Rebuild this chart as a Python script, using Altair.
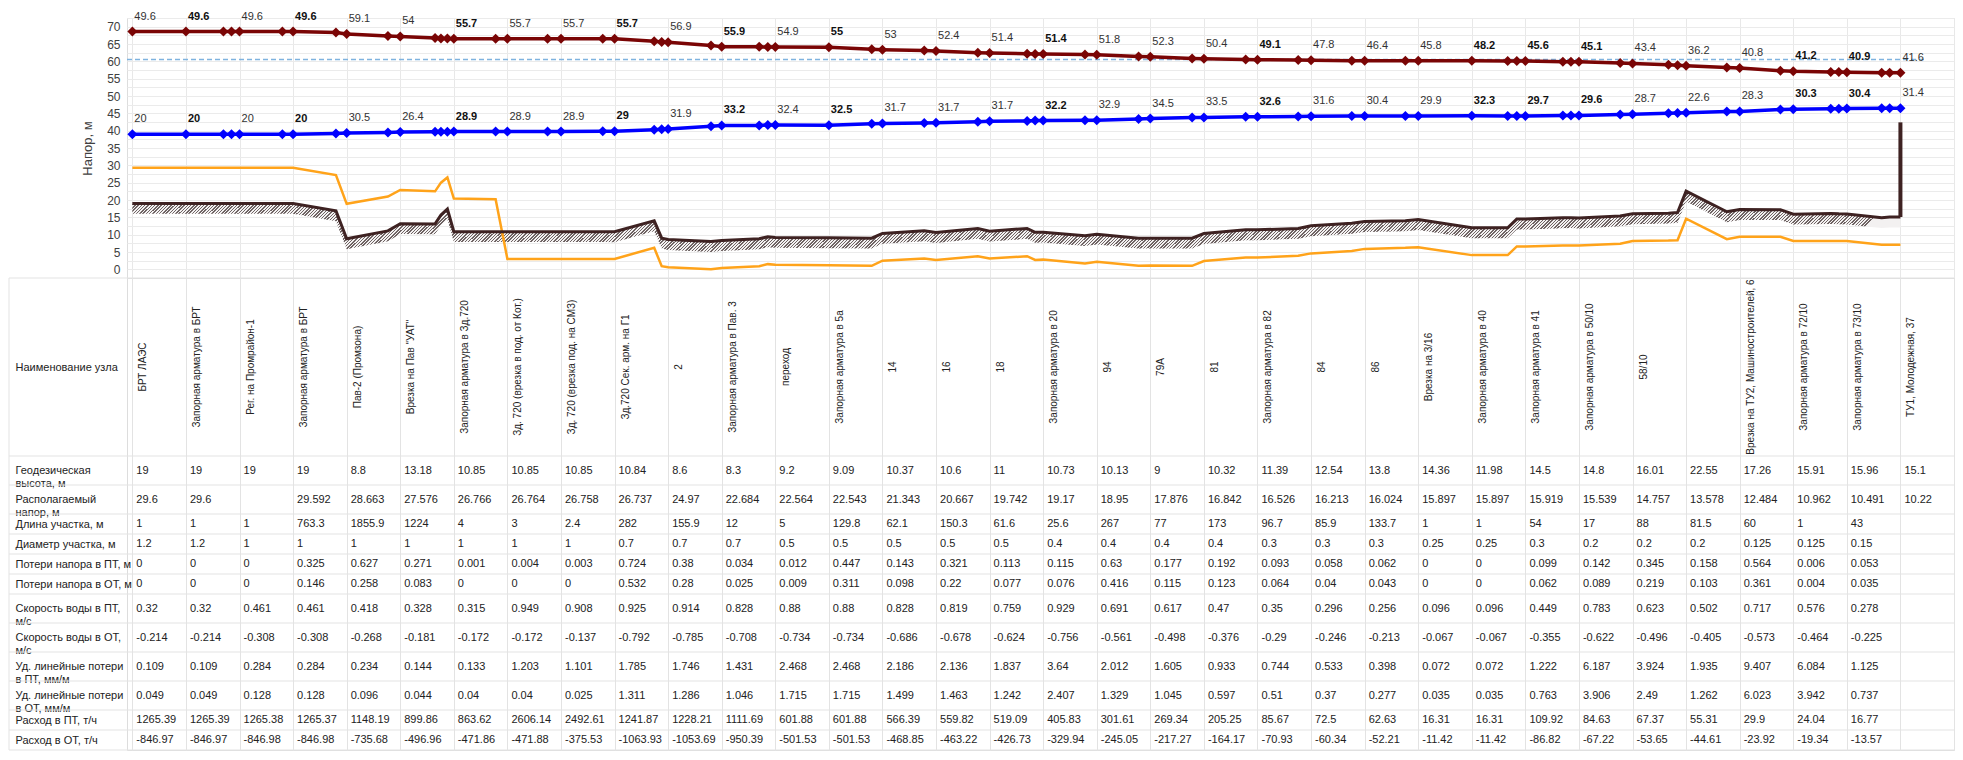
import json
import altair as alt
import pandas as pd

FONT = "Liberation Sans"

# ---------------- data ----------------
names = ["БРТ ЛАЭС", "Запорная арматура в БРТ", "Рег. на Промрайон-1", "Запорная арматура в БРТ",
         "Пав-2 (Промзона)", 'Врезка на Пав "УАТ"', "Запорная арматура в Зд.720",
         "Зд. 720 (врезка в под. от Кот.)", "Зд. 720 (врезка под. на СМЗ)", "Зд.720 Сек. арм. на Г1",
         "2", "Запорная арматура в Пав. 3", "переход", "Запорная арматура в 5а", "14", "16", "18",
         "Запорная арматура в 20", "94", "79А", "81", "Запорная арматура в 82", "84", "86",
         "Врезка на 3/16", "Запорная арматура в 40", "Запорная арматура в 41",
         "Запорная арматура в 50/10", "58/10", "", "Врезка на ТУ2, Машиностроителей, 6",
         "Запорная арматура в 72/10", "Запорная арматура в 73/10", "ТУ1, Молодежная, 37"]

geo = [19, 19, 19, 19, 8.8, 13.18, 10.85, 10.85, 10.85, 10.84, 8.6, 8.3, 9.2, 9.09, 10.37, 10.6, 11,
       10.73, 10.13, 9, 10.32, 11.39, 12.54, 13.8, 14.36, 11.98, 14.5, 14.8, 16.01, 22.55, 17.26,
       15.91, 15.96, 15.1]
avail = [29.6, 29.6, None, 29.592, 28.663, 27.576, 26.766, 26.764, 26.758, 26.737, 24.97, 22.684,
         22.564, 22.543, 21.343, 20.667, 19.742, 19.17, 18.95, 17.876, 16.842, 16.526, 16.213,
         16.024, 15.897, 15.897, 15.919, 15.539, 14.757, 13.578, 12.484, 10.962, 10.491, 10.22]
length = [1, 1, 1, 763.3, 1855.9, 1224, 4, 3, 2.4, 282, 155.9, 12, 5, 129.8, 62.1, 150.3, 61.6,
          25.6, 267, 77, 173, 96.7, 85.9, 133.7, 1, 1, 54, 17, 88, 81.5, 60, 1, 43, None]
diam = [1.2, 1.2, 1, 1, 1, 1, 1, 1, 1, 0.7, 0.7, 0.7, 0.5, 0.5, 0.5, 0.5, 0.5, 0.4, 0.4, 0.4, 0.4,
        0.3, 0.3, 0.3, 0.25, 0.25, 0.3, 0.2, 0.2, 0.2, 0.125, 0.125, 0.15, None]
loss_s = [0, 0, 0, 0.325, 0.627, 0.271, 0.001, 0.004, 0.003, 0.724, 0.38, 0.034, 0.012, 0.447,
          0.143, 0.321, 0.113, 0.115, 0.63, 0.177, 0.192, 0.093, 0.058, 0.062, 0, 0, 0.099, 0.142,
          0.345, 0.158, 0.564, 0.006, 0.053, None]
loss_r = [0, 0, 0, 0.146, 0.258, 0.083, 0, 0, 0, 0.532, 0.28, 0.025, 0.009, 0.311, 0.098, 0.22,
          0.077, 0.076, 0.416, 0.115, 0.123, 0.064, 0.04, 0.043, 0, 0, 0.062, 0.089, 0.219, 0.103,
          0.361, 0.004, 0.035, None]
vel_s = [0.32, 0.32, 0.461, 0.461, 0.418, 0.328, 0.315, 0.949, 0.908, 0.925, 0.914, 0.828, 0.88,
         0.88, 0.828, 0.819, 0.759, 0.929, 0.691, 0.617, 0.47, 0.35, 0.296, 0.256, 0.096, 0.096,
         0.449, 0.783, 0.623, 0.502, 0.717, 0.576, 0.278, None]
vel_r = [-0.214, -0.214, -0.308, -0.308, -0.268, -0.181, -0.172, -0.172, -0.137, -0.792, -0.785,
         -0.708, -0.734, -0.734, -0.686, -0.678, -0.624, -0.756, -0.561, -0.498, -0.376, -0.29,
         -0.246, -0.213, -0.067, -0.067, -0.355, -0.622, -0.496, -0.405, -0.573, -0.464, -0.225, None]
sp_s = [0.109, 0.109, 0.284, 0.284, 0.234, 0.144, 0.133, 1.203, 1.101, 1.785, 1.746, 1.431, 2.468,
        2.468, 2.186, 2.136, 1.837, 3.64, 2.012, 1.605, 0.933, 0.744, 0.533, 0.398, 0.072, 0.072,
        1.222, 6.187, 3.924, 1.935, 9.407, 6.084, 1.125, None]
sp_r = [0.049, 0.049, 0.128, 0.128, 0.096, 0.044, 0.04, 0.04, 0.025, 1.311, 1.286, 1.046, 1.715,
        1.715, 1.499, 1.463, 1.242, 2.407, 1.329, 1.045, 0.597, 0.51, 0.37, 0.277, 0.035, 0.035,
        0.763, 3.906, 2.49, 1.262, 6.023, 3.942, 0.737, None]
flow_s = [1265.39, 1265.39, 1265.38, 1265.37, 1148.19, 899.86, 863.62, 2606.14, 2492.61, 1241.87,
          1228.21, 1111.69, 601.88, 601.88, 566.39, 559.82, 519.09, 405.83, 301.61, 269.34, 205.25,
          85.67, 72.5, 62.63, 16.31, 16.31, 109.92, 84.63, 67.37, 55.31, 29.9, 24.04, 16.77, None]
flow_r = [-846.97, -846.97, -846.98, -846.98, -735.68, -496.96, -471.86, -471.88, -375.53, -1063.93,
          -1053.69, -950.39, -501.53, -501.53, -468.85, -463.22, -426.73, -329.94, -245.05, -217.27,
          -164.17, -70.93, -60.34, -52.21, -11.42, -11.42, -86.82, -67.22, -53.65, -44.61, -23.92,
          -19.34, -13.57, None]

# pressures shown as labels on the supply / return head lines
p_supply = [49.6, 49.6, 49.6, 49.6, 59.1, 54, 55.7, 55.7, 55.7, 55.7, 56.9, 55.9, 54.9, 55, 53,
            52.4, 51.4, 51.4, 51.8, 52.3, 50.4, 49.1, 47.8, 46.4, 45.8, 48.2, 45.6, 45.1, 43.4,
            36.2, 40.8, 41.2, 40.9, 41.6]
p_return = [20, 20, 20, 20, 30.5, 26.4, 28.9, 28.9, 28.9, 29, 31.9, 33.2, 32.4, 32.5, 31.7, 31.7,
            31.7, 32.2, 32.9, 34.5, 33.5, 32.6, 31.6, 30.4, 29.9, 32.3, 29.7, 29.6, 28.7, 22.6,
            28.3, 30.3, 30.4, 31.4]
# orange line at the nodes
node_orange = [29.3, 29.3, 29.3, 29.3, 18.9, 22.9, 20.4, 3.0, 3.0, 3.0, 0.6, 0.4, 1.3, 1.2, 2.5,
               2.7, 3.1, 2.8, 2.2, 1.1, 2.4, 3.4, 4.6, 5.9, 6.4, 4.1, 6.6, 6.9, 8.2, 14.6, 9.4,
               8.2, 8.2, 7.1]

# intermediate profile points between nodes (position in node units)
ex_x = [1.7, 1.85, 2.8, 3.8, 4.77, 5.65, 5.76, 5.88, 6.78, 7.75, 8.78, 9.74, 9.88, 10.8, 11.7,
        11.86, 13.8, 14.78, 15.78, 16.7, 16.85, 17.78, 18.78, 19.78, 20.78, 21.76, 22.76, 23.76,
        25.67, 25.84, 26.7, 26.85, 27.77, 28.67, 28.84, 29.76, 30.76, 31.7, 31.85, 32.65, 32.8]
ex_geo = [19, 19, 19, 16.9, 11.1, 13.1, 15.7, 17.4, 10.85, 10.85, 10.85, 14.0, 9.0, 8.0, 8.8, 9.4,
          9.0, 11.1, 11.8, 11.8, 10.7, 9.7, 9.0, 9.0, 11.4, 11.8, 13.3, 14.0, 11.98, 14.5, 14.85,
          14.9, 15.4, 16.2, 16.4, 16.6, 17.2, 16.1, 16.0, 14.9, 15.1]
ex_orange = [29.3, 29.3, 29.3, 27.2, 21.0, 22.5, 25.0, 26.5, 20.2, 3.0, 3.0, 6.2, 0.9, 0.0, 0.9,
             1.5, 1.0, 3.1, 3.8, 3.8, 2.7, 1.7, 1.0, 1.0, 3.4, 3.9, 5.3, 6.2, 4.1, 6.6, 6.9, 6.9,
             7.4, 8.3, 8.4, 8.7, 9.4, 8.2, 8.2, 7.1, 7.1]
ex_supply = [68.6, 68.6, 68.6, 68.3, 67.3, 66.7, 66.6, 66.6, 66.55, 66.55, 66.55, 65.8, 65.6, 64.6,
             64.2, 64.1, 63.5, 63.1, 62.5, 62.2, 62.15, 62.0, 61.4, 60.8, 60.5, 60.4, 60.2, 60.2,
             60.1, 60.1, 59.9, 59.9, 59.5, 59.0, 58.9, 58.2, 57.3, 56.9, 56.9, 56.7, 56.7]
ex_return = [39, 39, 39, 39.2, 39.5, 39.7, 39.7, 39.7, 39.75, 39.75, 39.8, 40.3, 40.4, 41.3, 41.5,
             41.6, 42.0, 42.2, 42.6, 42.8, 42.9, 43.0, 43.4, 43.8, 44.0, 44.1, 44.2, 44.25, 44.2,
             44.2, 44.35, 44.4, 44.65, 45.0, 45.1, 45.5, 46.1, 46.3, 46.35, 46.5, 46.5]

limit_head = 60.5          # dashed reference line
limit_span = [-0.1, 33.45]
end_riser_top = 42.4       # vertical line at the last node

row_lines = [["Наименование узла"], ["Геодезическая", "высота, м"], ["Располагаемый", "напор, м"],
             ["Длина участка, м"], ["Диаметр участка, м"], ["Потери напора в ПТ, м"],
             ["Потери напора в ОТ, м"], ["Скорость воды в ПТ,", "м/с"], ["Скорость воды в ОТ,", "м/с"],
             ["Уд. линейные потери", "в ПТ, мм/м"], ["Уд. линейные потери", "в ОТ, мм/м"],
             ["Расход в ПТ, т/ч"], ["Расход в ОТ, т/ч"]]
row_values = [geo, avail, length, diam, loss_s, loss_r, vel_s, vel_r, sp_s, sp_r, flow_s, flow_r]

# ---------------- layout ----------------
PLOT_W = 1827
TOP_H = 260
ROW_H = [178, 29, 29, 20, 20, 20, 20, 29, 29, 29, 29, 20, 20]
LEFT = 118

bounds = [0]
for h in ROW_H:
    bounds.append(bounds[-1] + h)
TOTAL = bounds[-1]
centers = [(bounds[i] + bounds[i + 1]) / 2 for i in range(len(ROW_H))]

# ---------------- frames ----------------
n = len(names)
nodes = pd.DataFrame({"x": list(range(n)), "geo": geo, "orange": node_orange,
                      "ps": p_supply, "pr": p_return, "name": names})
nodes["supply"] = nodes["geo"] + nodes["ps"]
nodes["ret"] = nodes["geo"] + nodes["pr"]
nodes["valve"] = nodes["name"].str.contains("арм")
extras = pd.DataFrame({"x": ex_x, "geo": ex_geo, "orange": ex_orange,
                       "supply": ex_supply, "ret": ex_return})
prof = pd.concat([nodes[["x", "geo", "orange", "supply", "ret"]], extras]).sort_values("x")
prof = prof.reset_index(drop=True)

xscale = alt.Scale(domain=[-0.1, 34], nice=False, zero=False)
x_axis = alt.Axis(values=list(range(35)), grid=True, gridColor="#e8e8e8", labels=False,
                  ticks=False, domain=False, title=None)
X = alt.X("x:Q", scale=xscale, axis=x_axis)

yscale = alt.Scale(domain=[-2.5, 72.5], nice=False, zero=False)
y_axis = alt.Axis(values=[v / 2 for v in range(-5, 146, 5)],
                  labelExpr="(datum.value >= 0 && datum.value % 5 == 0) ? datum.label : ''",
                  grid=True, gridColor="#ebebeb", ticks=False, domain=False,
                  title="Напор, м", titleFontWeight="normal", titleFontSize=13,
                  titleColor="#404040", titleFont=FONT, labelFont=FONT, labelFontSize=12,
                  labelColor="#404040", labelPadding=7, titlePadding=12, labelOverlap=False)

# hatch-like fill for the ground band
k = 0.035
N = 540
dark, light = "#6f6464", "#f3f1f1"
stops = []
for i in range(N):
    a, m, b = round(i / N, 6), round((i + 0.45) / N, 6), round((i + 1) / N, 6)
    stops += [{"offset": a, "color": dark}, {"offset": m, "color": dark},
              {"offset": m, "color": light}, {"offset": b, "color": light}]
hatch = {"gradient": "linear", "x1": 0, "y1": 0, "x2": 1, "y2": k, "stops": stops}

base = alt.Chart(prof)
band = base.transform_calculate(low="datum.geo - 3").mark_area(
    color=hatch, opacity=1).encode(x=X, y=alt.Y("geo:Q", scale=yscale, axis=y_axis), y2="low:Q")
orange = base.mark_line(color="#ffa31a", strokeWidth=2.5).encode(
    x=X, y=alt.Y("orange:Q", scale=yscale, axis=y_axis))
ground = base.mark_line(color="#3e2222", strokeWidth=3).encode(
    x=X, y=alt.Y("geo:Q", scale=yscale, axis=y_axis))
riser = alt.Chart(pd.DataFrame({"x": [n - 1], "y": [geo[-1]], "y2": [end_riser_top]})).mark_rule(
    color="#3e2222", strokeWidth=4).encode(x=X, y=alt.Y("y:Q", scale=yscale, axis=y_axis), y2="y2:Q")
limit = alt.Chart(pd.DataFrame({"x": [limit_span[0]], "x2": [limit_span[1]], "y": [limit_head]})).mark_rule(
    color="#7fb3df", strokeWidth=1.5, strokeDash=[5, 3]).encode(
    x=X, x2="x2:Q", y=alt.Y("y:Q", scale=yscale, axis=y_axis))

RED, BLUE = "#7a0505", "#0000ff"
sup_line = base.mark_line(color=RED, strokeWidth=3.5).encode(
    x=X, y=alt.Y("supply:Q", scale=yscale, axis=y_axis))
sup_pts = base.mark_point(shape="diamond", filled=True, size=100, color=RED, opacity=1).encode(
    x=X, y=alt.Y("supply:Q", scale=yscale, axis=y_axis))
ret_line = base.mark_line(color=BLUE, strokeWidth=3.5).encode(
    x=X, y=alt.Y("ret:Q", scale=yscale, axis=y_axis))
ret_pts = base.mark_point(shape="diamond", filled=True, size=100, color=BLUE, opacity=1).encode(
    x=X, y=alt.Y("ret:Q", scale=yscale, axis=y_axis))


def labels(field, yfield):
    out = []
    for flt, weight, col in [("!datum.valve", "normal", "#333333"), ("datum.valve", "bold", "#111111")]:
        out.append(alt.Chart(nodes).transform_filter(flt).mark_text(
            align="left", baseline="alphabetic", dx=2, dy=-12, fontSize=11, font=FONT,
            fontWeight=weight, color=col).encode(
            x=X, y=alt.Y(f"{yfield}:Q", scale=yscale, axis=y_axis),
            text=alt.Text(f"{field}:Q", format=".1~f")))
    return out


top = alt.layer(band, orange, ground, riser, limit, sup_line, ret_line, sup_pts, ret_pts,
                *labels("ps", "supply"), *labels("pr", "ret")).properties(width=PLOT_W, height=TOP_H)

# ---------------- table ----------------
tscale = alt.Scale(domain=[0, TOTAL], reverse=True, nice=False, zero=False)
label_expr = "{}[indexof({}, datum.value)]".format(
    json.dumps(row_lines, ensure_ascii=False), json.dumps(centers))
row_axis = alt.Axis(values=centers, labelExpr=label_expr, labelAlign="left", labelBaseline="middle",
                    labelPadding=LEFT - 6, ticks=False, tickSize=0, domain=False, grid=False,
                    title=None, labelFontSize=11, labelFont=FONT, labelColor="#222222",
                    labelLineHeight=13, labelOverlap=False, labelLimit=0, labelBound=False)
tx_axis = alt.Axis(values=list(range(35)), grid=True, gridColor="#e3e3e3", labels=False,
                   ticks=False, domain=False, title=None)
TX = alt.X("x:Q", scale=xscale, axis=tx_axis)

cells = []
for r, vals in enumerate(row_values):
    for c, v in enumerate(vals):
        if v is not None:
            cells.append({"x": c, "y": centers[r + 1], "t": str(v)})
cells = pd.DataFrame(cells)
name_cells = pd.DataFrame([{"x": c, "y": centers[0], "t": nm} for c, nm in enumerate(names) if nm])

hlines = alt.Chart(pd.DataFrame({"b": bounds})).mark_rule(color="#e3e3e3", strokeWidth=1).encode(
    y=alt.Y("b:Q", scale=tscale, axis=row_axis), x=alt.value(-LEFT), x2=alt.value(PLOT_W))
vborder = alt.Chart(pd.DataFrame({"a": [0], "b": [TOTAL]})).mark_rule(color="#e3e3e3").encode(
    y=alt.Y("a:Q", scale=tscale, axis=row_axis), y2="b:Q", x=alt.value(-LEFT))
name_txt = alt.Chart(name_cells).mark_text(angle=270, align="center", baseline="middle", dy=11,
                                           fontSize=10, font=FONT, color="#222222").encode(
    x=TX, y=alt.Y("y:Q", scale=tscale, axis=row_axis), text="t:N")
val_txt = alt.Chart(cells).mark_text(align="left", baseline="middle", dx=4, fontSize=11, font=FONT,
                                     color="#222222").encode(
    x=TX, y=alt.Y("y:Q", scale=tscale, axis=row_axis), text="t:N")

table = alt.layer(hlines, vborder, name_txt, val_txt).properties(width=PLOT_W, height=TOTAL)

chart = alt.vconcat(top, table, spacing=0, bounds="flush").properties(
    padding={"left": 0, "top": 2, "right": 0, "bottom": 0}
).configure_view(stroke=None).configure(font=FONT)

chart.save("out.html", embed_options={"renderer": "svg", "actions": False})
